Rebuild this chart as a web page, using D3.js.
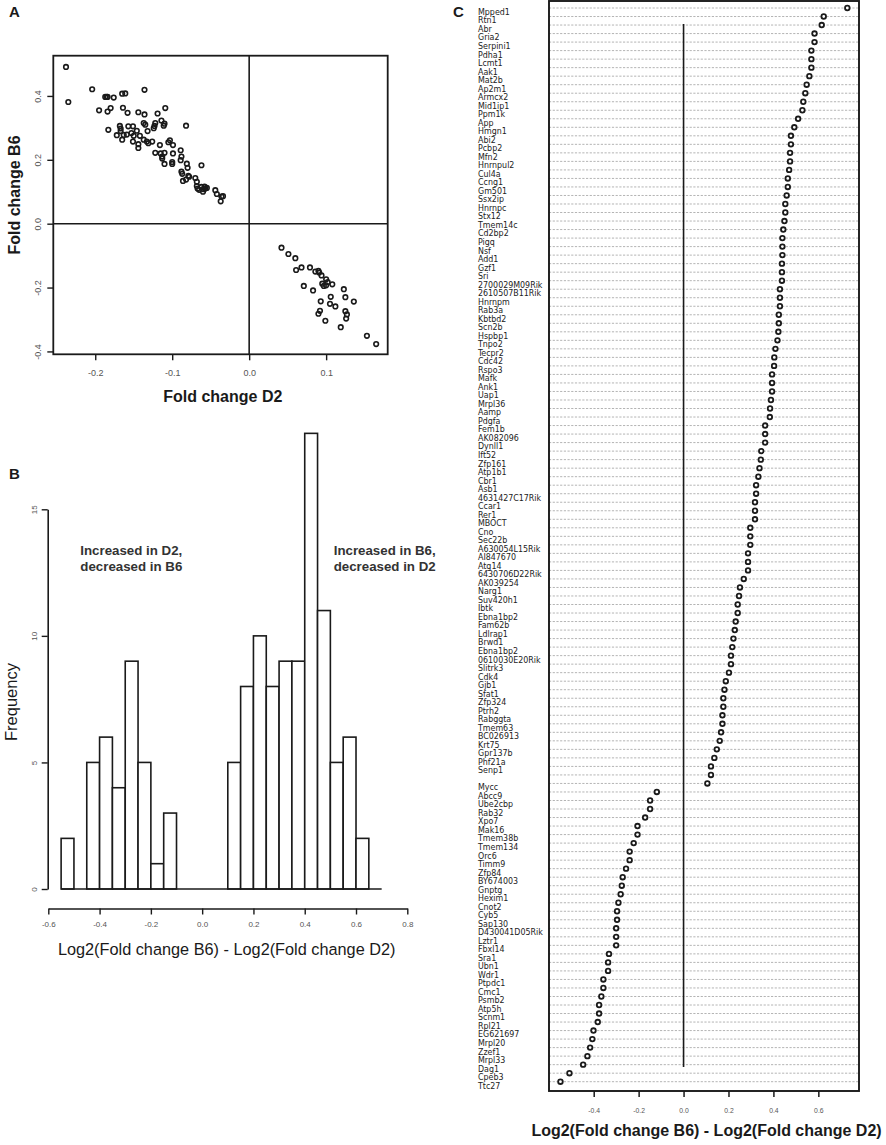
<!DOCTYPE html>
<html><head><meta charset="utf-8">
<script src="https://cdn.jsdelivr.net/npm/d3@7"></script>
<style>
body{margin:0;background:#fff;}
svg{display:block;font-family:"Liberation Sans",Arial,sans-serif;}
</style></head><body>
<svg id="c" width="886" height="1145"></svg>
<script>
// ---------- Panel A data: fold changes ----------
const upD2 = [-0.238,-0.235,-0.204,-0.195,-0.187,-0.185,-0.184,-0.176,-0.184,-0.180,
-0.183,-0.172,-0.168,-0.167,-0.167,-0.165,-0.164,-0.165,-0.161,-0.163,
-0.158,-0.157,-0.159,-0.153,-0.151,-0.150,-0.151,-0.146,-0.144,-0.144,
-0.144,-0.142,-0.137,-0.137,-0.136,-0.136,-0.135,-0.133,-0.132,-0.131,
-0.126,-0.124,-0.123,-0.122,-0.119,-0.116,-0.114,-0.111,-0.110,-0.109,
-0.122,-0.115,-0.113,-0.110,-0.113,-0.110,-0.105,-0.103,-0.099,-0.099,
-0.100,-0.100,-0.089,-0.088,-0.089,-0.082,-0.088,-0.087,-0.086,-0.082,
-0.081,-0.080,-0.079,-0.078,-0.070,-0.068,-0.068,-0.067,-0.065,-0.062,
-0.062,-0.060,-0.059,-0.057,-0.055,-0.058,-0.044,-0.042,-0.037,-0.036,-0.034];
const upB6 = [0.491,0.381,0.421,0.355,0.397,0.397,0.397,0.395,0.351,0.362,
0.294,0.277,0.306,0.298,0.290,0.263,0.363,0.407,0.408,0.278,
0.347,0.305,0.279,0.284,0.305,0.275,0.257,0.291,0.349,0.249,
0.237,0.275,0.263,0.315,0.342,0.419,0.310,0.257,0.290,0.252,
0.257,0.299,0.306,0.315,0.345,0.246,0.323,0.307,0.313,0.362,
0.222,0.220,0.210,0.222,0.204,0.187,0.255,0.261,0.220,0.246,
0.193,0.187,0.230,0.210,0.199,0.307,0.163,0.156,0.134,0.138,
0.188,0.175,0.150,0.147,0.143,0.131,0.118,0.110,0.106,0.183,
0.115,0.100,0.108,0.110,0.112,0.116,0.105,0.093,0.070,0.085,0.086];
const downD2 = [0.042,0.051,0.060,0.061,0.068,0.079,0.086,0.090,0.091,0.094,
0.100,0.102,0.095,0.097,0.100,0.108,0.071,0.083,0.123,0.125,
0.106,0.093,0.105,0.112,0.136,0.125,0.127,0.092,0.090,0.126,
0.099,0.119,0.153,0.165];
const downB6 = [-0.075,-0.095,-0.108,-0.145,-0.137,-0.137,-0.150,-0.148,-0.153,-0.162,
-0.174,-0.183,-0.188,-0.195,-0.193,-0.190,-0.195,-0.209,-0.205,-0.230,
-0.229,-0.243,-0.251,-0.259,-0.244,-0.274,-0.284,-0.273,-0.282,-0.297,
-0.304,-0.324,-0.351,-0.377];
const ticksAx = [-0.2,-0.1,0.0,0.1];
const ticksAy = [-0.4,-0.2,0.0,0.2,0.4];

// ---------- Panel B data: histogram ----------
const binStarts = [-0.55,-0.50,-0.45,-0.40,-0.35,-0.30,-0.25,-0.20,-0.15,-0.10,-0.05,0.00,0.05,
0.10,0.15,0.20,0.25,0.30,0.35,0.40,0.45,0.50,0.55,0.60,0.65];
const binCounts = [2,0,5,6,4,9,5,1,3,0,0,0,0,5,8,10,8,9,9,18,11,5,6,2,0];
const binWidth = 0.05;
const ticksBx = [-0.6,-0.4,-0.2,0.0,0.2,0.4,0.6,0.8];
const ticksBy = [0,5,10,15];

// ---------- Panel C data: dot chart ----------
const genesUp = ["Mpped1","Rtn1","Abr","Gria2","Serpini1","Pdha1","Lcmt1","Aak1","Mat2b","Ap2m1",
"Armcx2","Mid1ip1","Ppm1k","App","Hmgn1","Abi2","Pcbp2","Mfn2","Hnrnpul2","Cul4a",
"Ccng1","Gm501","Ssx2ip","Hnrnpc","Stx12","Tmem14c","Cd2bp2","Pigq","Nsf","Add1",
"Gzf1","Sri","2700029M09Rik","2610507B11Rik","Hnrnpm","Rab3a","Kbtbd2","Scn2b","Hspbp1","Tnpo2",
"Tecpr2","Cdc42","Rspo3","Mafk","Ank1","Uap1","Mrpl36","Aamp","Pdgfa","Fem1b",
"AK082096","Dynll1","Ift52","Zfp161","Atp1b1","Cbr1","Asb1","4631427C17Rik","Ccar1","Rer1",
"MBOCT","Cno","Sec22b","A630054L15Rik","AI847670","Atg14","6430706D22Rik","AK039254","Narg1","Suv420h1",
"Ibtk","Ebna1bp2","Fam62b","Ldlrap1","Brwd1","Ebna1bp2","0610030E20Rik","Slitrk3","Cdk4","Gjb1",
"Sfat1","Zfp324","Ptrh2","Rabggta","Tmem63","BC026913","Krt75","Gpr137b","Phf21a","Senp1"];
const genesDown = ["Mycc","Abcc9","Ube2cbp","Rab32","Xpo7","Mak16","Tmem38b","Tmem134","Orc6","Timm9",
"Zfp84","BY674003","Gnptg","Hexim1","Cnot2","Cyb5","Sap130","D430041D05Rik","Lztr1","Fbxl14",
"Sra1","Ubn1","Wdr1","Ptpdc1","Cmc1","Psmb2","Atp5h","Scnm1","Rpl21","EG621697",
"Mrpl20","Zzef1","Mrpl33","Dag1","Cpeb3","Ttc27"];
const dotValues = [0.729,0.624,0.615,0.583,0.583,0.569,0.569,0.569,0.560,0.548,
0.542,0.533,0.529,0.510,0.493,0.478,0.478,0.474,0.474,0.470,
0.464,0.464,0.459,0.453,0.453,0.449,0.444,0.440,0.440,0.440,
0.438,0.438,0.438,0.429,0.429,0.429,0.424,0.424,0.422,0.418,
0.409,0.404,0.403,0.394,0.394,0.394,0.389,0.385,0.384,0.363,
0.363,0.363,0.346,0.344,0.338,0.333,0.323,0.323,0.318,0.318,
0.318,0.297,0.297,0.297,0.287,0.287,0.287,0.268,0.251,0.247,
0.241,0.241,0.232,0.228,0.222,0.217,0.211,0.211,0.202,0.188,
0.182,0.177,0.177,0.173,0.173,0.167,0.161,0.148,0.137,0.122,
0.122,0.106,
-0.119,-0.149,-0.149,-0.171,-0.205,-0.205,-0.222,-0.240,-0.240,-0.256,
-0.271,-0.275,-0.280,-0.290,-0.296,-0.296,-0.300,-0.300,-0.300,-0.332,
-0.336,-0.336,-0.357,-0.357,-0.366,-0.376,-0.376,-0.382,-0.401,-0.406,
-0.416,-0.428,-0.447,-0.508,-0.548];
const ticksCx = [-0.4,-0.2,0.0,0.2,0.4,0.6];

const fmt = d => d.toFixed(1);
const svg = d3.select("#c");
const INK = "#1a1a1a", TICKTXT = "#555";

// ================= PANEL A =================
const xA = d3.scaleLinear().domain([-0.2545, 0.18]).range([53.3, 387.7]);
const yA = d3.scaleLinear().domain([-0.409, 0.526]).range([354.3, 55.7]);
const gA = svg.append("g");
gA.append("rect").attr("x", xA.range()[0]).attr("y", yA.range()[1])
  .attr("width", xA.range()[1]-xA.range()[0]).attr("height", yA.range()[0]-yA.range()[1])
  .attr("fill","none").attr("stroke",INK).attr("stroke-width",1.8);
gA.append("line").attr("x1",xA(0)).attr("x2",xA(0)).attr("y1",yA.range()[1]).attr("y2",yA.range()[0])
  .attr("stroke",INK).attr("stroke-width",1.6);
gA.append("line").attr("x1",xA.range()[0]).attr("x2",xA.range()[1]).attr("y1",yA(0)).attr("y2",yA(0))
  .attr("stroke",INK).attr("stroke-width",1.6);
const ptsA = upD2.map((d,i)=>[d,upB6[i]]).concat(downD2.map((d,i)=>[d,downB6[i]]));
gA.selectAll("circle.pa").data(ptsA).enter().append("circle").attr("class","pa")
  .attr("cx",d=>xA(d[0])).attr("cy",d=>yA(d[1])).attr("r",2.3)
  .attr("fill","none").attr("stroke",INK).attr("stroke-width",1.6);
const axAx = gA.append("g").attr("transform",`translate(0,${yA.range()[0]})`)
  .call(d3.axisBottom(xA).tickValues(ticksAx).tickFormat(fmt).tickSize(6).tickSizeOuter(0));
axAx.select(".domain").remove();
axAx.selectAll(".tick line").attr("stroke",INK).attr("stroke-width",1.4);
axAx.selectAll(".tick text").attr("y",15).attr("dy","0.71em").attr("font-size",9).attr("fill",TICKTXT)
  .attr("font-family","Liberation Sans, Arial, sans-serif");
const axAy = gA.append("g").attr("transform",`translate(${xA.range()[0]},0)`)
  .call(d3.axisLeft(yA).tickValues(ticksAy).tickFormat(fmt).tickSize(6).tickSizeOuter(0));
axAy.select(".domain").remove();
axAy.selectAll(".tick line").attr("stroke",INK).attr("stroke-width",1.4);
axAy.selectAll(".tick text").attr("transform","rotate(-90)").attr("x",0).attr("y",-12).attr("dy",0)
  .attr("text-anchor","middle").attr("font-size",9).attr("fill",TICKTXT)
  .attr("font-family","Liberation Sans, Arial, sans-serif");
gA.append("text").attr("x",222.8).attr("y",401.5).attr("text-anchor","middle")
  .attr("font-size",16).attr("font-weight","bold").attr("fill",INK).text("Fold change D2");
gA.append("text").attr("transform","translate(19.5,195) rotate(-90)").attr("text-anchor","middle")
  .attr("font-size",16).attr("font-weight","bold").attr("fill",INK).text("Fold change B6");
svg.append("text").attr("x",9).attr("y",16.5).attr("font-size",15).attr("font-weight","bold").attr("fill",INK).text("A");

// ================= PANEL B =================
const xB = d3.scaleLinear().domain([-0.6, 0.8]).range([48.3, 407.3]);
const yB = d3.scaleLinear().domain([0, 15]).range([889, 509.3]);
const gB = svg.append("g");
const bins = binStarts.map((s,i)=>({s, c: binCounts[i]}));
gB.selectAll("rect.bar").data(bins.filter(b=>b.c>0)).enter().append("rect").attr("class","bar")
  .attr("x",d=>xB(d.s)).attr("width",d=>xB(d.s+binWidth)-xB(d.s))
  .attr("y",d=>yB(d.c)).attr("height",d=>yB(0)-yB(d.c))
  .attr("fill","#fff").attr("stroke",INK).attr("stroke-width",1.6);
gB.append("line").attr("x1",xB(binStarts[0])).attr("x2",xB(binStarts[binStarts.length-1]+binWidth))
  .attr("y1",yB(0)).attr("y2",yB(0)).attr("stroke",INK).attr("stroke-width",1.6);
const axBx = gB.append("g").attr("transform","translate(0,908.5)")
  .call(d3.axisBottom(xB).tickValues(ticksBx).tickFormat(fmt).tickSize(6).tickSizeOuter(0));
axBx.select(".domain").attr("stroke",INK).attr("stroke-width",1.6);
axBx.selectAll(".tick line").attr("stroke",INK).attr("stroke-width",1.4);
axBx.selectAll(".tick text").attr("y",13).attr("dy","0.71em").attr("font-size",8).attr("fill",TICKTXT)
  .attr("font-family","Liberation Sans, Arial, sans-serif");
const axBy = gB.append("g").attr("transform","translate(47.7,0)")
  .call(d3.axisLeft(yB).tickValues(ticksBy).tickSize(6).tickSizeOuter(0));
axBy.select(".domain").attr("stroke",INK).attr("stroke-width",1.6);
axBy.selectAll(".tick line").attr("stroke",INK).attr("stroke-width",1.4);
axBy.selectAll(".tick text").attr("transform","rotate(-90)").attr("x",0).attr("y",-11).attr("dy",0)
  .attr("text-anchor","middle").attr("font-size",8).attr("fill",TICKTXT)
  .attr("font-family","Liberation Sans, Arial, sans-serif");
gB.append("text").attr("x",226.7).attr("y",955).attr("text-anchor","middle")
  .attr("font-size",16.3).attr("fill",INK).text("Log2(Fold change B6) - Log2(Fold change D2)");
gB.append("text").attr("transform","translate(16.5,702) rotate(-90)").attr("text-anchor","middle")
  .attr("font-size",16.5).attr("fill",INK).text("Frequency");
const notes = [
  {x:80.3, lines:["Increased in D2,","decreased in B6"]},
  {x:333.7, lines:["Increased in B6,","decreased in D2"]}];
notes.forEach(n=>{
  n.lines.forEach((t,i)=>{
    gB.append("text").attr("x",n.x).attr("y",555+i*15.7).attr("font-size",13.3)
      .attr("font-weight","bold").attr("fill","#333").text(t);
  });
});
svg.append("text").attr("x",9).attr("y",479).attr("font-size",15).attr("font-weight","bold").attr("fill",INK).text("B");

// ================= PANEL C =================
const xC = d3.scaleLinear().domain([-0.599, 0.781]).range([549, 859]);
const nRows = dotValues.length;
const yC = d3.scalePoint().domain(d3.range(nRows)).range([8, 1081.7]);
const gC = svg.append("g");
gC.selectAll("line.row").data(d3.range(nRows)).enter().append("line").attr("class","row")
  .attr("x1",xC.range()[0]).attr("x2",xC.range()[1]).attr("y1",d=>yC(d)).attr("y2",d=>yC(d))
  .attr("stroke","#b4b4b4").attr("stroke-width",1).attr("stroke-dasharray","2.2,1.5");
gC.append("rect").attr("x",549).attr("y",1).attr("width",310).attr("height",1090)
  .attr("fill","none").attr("stroke",INK).attr("stroke-width",1.9);
gC.append("line").attr("x1",xC(0)).attr("x2",xC(0)).attr("y1",24).attr("y2",1067)
  .attr("stroke",INK).attr("stroke-width",1.6);
gC.selectAll("circle.dc").data(dotValues).enter().append("circle").attr("class","dc")
  .attr("cx",d=>xC(d)).attr("cy",(d,i)=>yC(i)).attr("r",2.3)
  .attr("fill","#fff").attr("stroke",INK).attr("stroke-width",1.8);
// labels: up-regulated group, one empty slot, then down-regulated group
const labelSlots = genesUp.map((g,i)=>({g, slot:i}))
  .concat(genesDown.map((g,i)=>({g, slot: genesUp.length + 1 + i})))
  .filter(d=>d.slot < nRows);
gC.selectAll("text.gene").data(labelSlots).enter().append("text").attr("class","gene")
  .attr("x",478).attr("y",d=>yC(d.slot)+6.9)
  .attr("font-family","'Liberation Sans Narrow','Arial Narrow','DejaVu Sans Condensed',sans-serif")
  .attr("font-size",8.8).attr("fill","#222").text(d=>d.g);
const axCx = gC.append("g").attr("transform","translate(0,1091)")
  .call(d3.axisBottom(xC).tickValues(ticksCx).tickFormat(fmt).tickSize(6).tickSizeOuter(0));
axCx.select(".domain").remove();
axCx.selectAll(".tick line").attr("stroke",INK).attr("stroke-width",1.5);
axCx.selectAll(".tick text").attr("y",17).attr("dy","0.71em").attr("font-size",6.8).attr("fill",TICKTXT)
  .attr("font-family","Liberation Sans, Arial, sans-serif");
gC.append("text").attr("x",706.5).attr("y",1136).attr("text-anchor","middle")
  .attr("font-size",16).attr("font-weight","bold").attr("fill",INK)
  .text("Log2(Fold change B6) - Log2(Fold change D2)");
svg.append("text").attr("x",453).attr("y",16.5).attr("font-size",15).attr("font-weight","bold").attr("fill",INK).text("C");
</script>
</body></html>
